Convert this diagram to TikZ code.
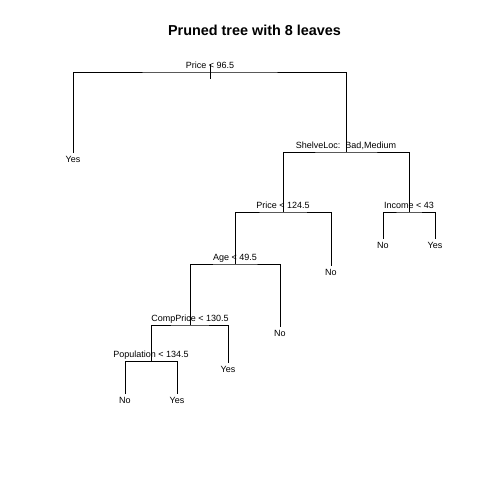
\documentclass[tikz,border=0pt]{standalone}
\usepackage{fontspec}
\setmainfont{Liberation Sans}
\usetikzlibrary{positioning}
\tikzset{
  branch/.style={line width=0.8pt, black},
  splitlab/.style={inner sep=0pt, text depth=0pt, font=\fontsize{9}{10}\selectfont},
  leaflab/.style={inner sep=0pt, text height=6.5pt, text depth=0pt, font=\fontsize{9}{10}\selectfont}
}
\begin{document}
\begin{tikzpicture}[x=1pt, y=-1pt]
	\useasboundingbox (0,0) rectangle (480,480);
	\node[font=\fontsize{14.4}{17}\selectfont\bfseries, anchor=base] (title) at (254.5,35.5) {Pruned tree with 8 leaves};
	
	% Splits
	\coordinate (root) at (210,72);
	\coordinate (shelve) at (346,152);
	\coordinate (priceB) at (283,212);
	\coordinate (income) at (409,212);
	\coordinate (age) at (235,264);
	\coordinate (comp) at (190,325);
	\coordinate (pop) at (151,361.5);
	
	% Leaves
	\coordinate (yesA) at (73,153);
	\coordinate (noA) at (383,238.5);
	\coordinate (yesB) at (435,238.5);
	\coordinate (noB) at (331,265.5);
	\coordinate (noC) at (280,326.5);
	\coordinate (yesC) at (228,362.5);
	\coordinate (noD) at (125,394);
	\coordinate (yesD) at (177,394);
	
	% Root tick
	\coordinate (roottop) at (210,64);
	\coordinate (rootbot) at (210,79);
	\draw[branch] (roottop) -- (rootbot);
	
	% Branches
	\draw[branch] (yesA) |- (root) -| (shelve);
	\draw[branch] (priceB) |- (shelve) -| (income);
	\draw[branch] (noA) |- (income) -| (yesB);
	\draw[branch] (age) |- (priceB) -| (noB);
	\draw[branch] (comp) |- (age) -| (noC);
	\draw[branch] (pop) |- (comp) -| (yesC);
	\draw[branch] (noD) |- (pop) -| (yesD);
	
	% Split labels
	\node[splitlab, above=3.5pt of root] (lroot) {Price < 96.5};
	\node[splitlab, above=3.5pt of shelve] (lshelve) {ShelveLoc:\ \ Bad,Medium};
	\node[splitlab, above=3.5pt of priceB] (lpriceB) {Price < 124.5};
	\node[splitlab, above=3.5pt of income] (lincome) {Income < 43};
	\node[splitlab, above=3.5pt of age] (lage) {Age < 49.5};
	\node[splitlab, above=3.5pt of comp] (lcomp) {CompPrice < 130.5};
	\node[splitlab, above=3.5pt of pop] (lpop) {Population < 134.5};
	
	% Leaf labels
	\node[leaflab, below=3pt of yesA] (lyesA) {Yes};
	\node[leaflab, below=3pt of noA] (lnoA) {No};
	\node[leaflab, below=3pt of yesB] (lyesB) {Yes};
	\node[leaflab, below=3pt of noB] (lnoB) {No};
	\node[leaflab, below=3pt of noC] (lnoC) {No};
	\node[leaflab, below=3pt of yesC] (lyesC) {Yes};
	\node[leaflab, below=3pt of noD] (lnoD) {No};
	\node[leaflab, below=3pt of yesD] (lyesD) {Yes};
\end{tikzpicture}
\end{document}
